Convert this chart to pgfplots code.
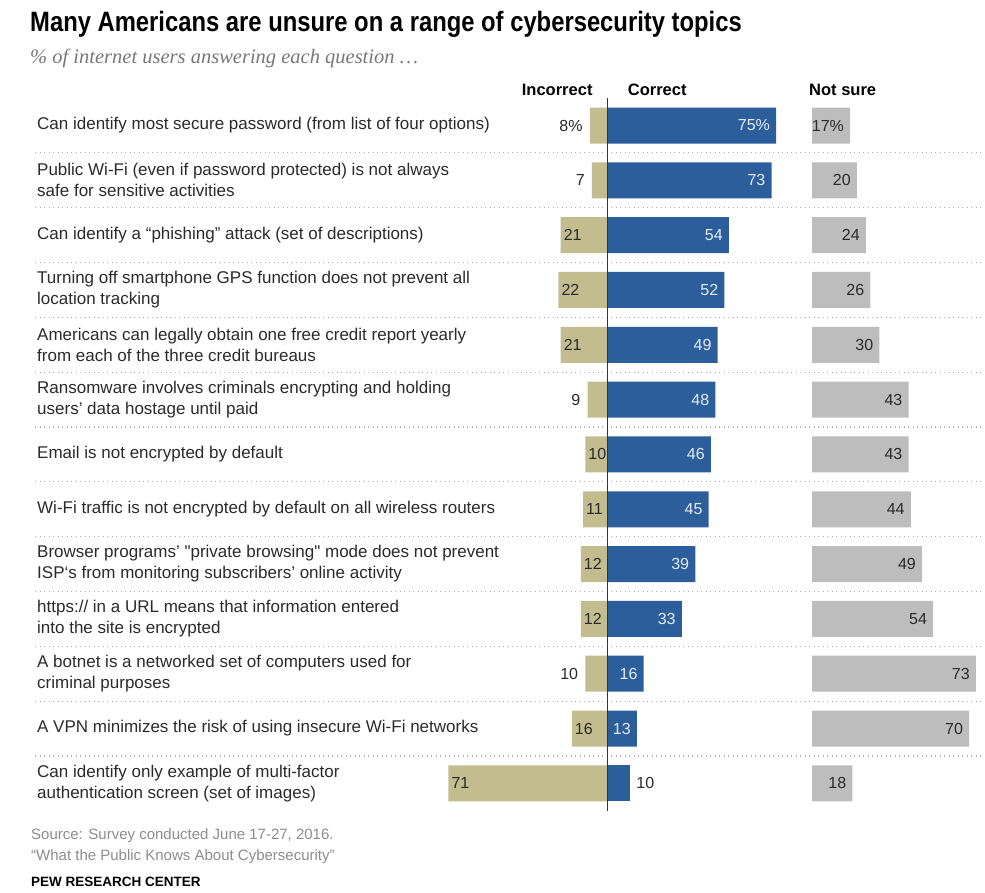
\documentclass[border=0pt]{standalone}
\usepackage{pgfplots}
\pgfplotsset{compat=1.18}
\usepackage{pgfplotstable}
\usepackage{fontspec}
\setmainfont{Liberation Sans}
\newfontfamily\rawq{Liberation Sans}
\newfontfamily\condfont{Liberation Sans}[FakeStretch=0.85]
\newfontfamily\subfont{Liberation Serif}
\definecolor{tanC}{HTML}{C3BC8E}
\definecolor{blueC}{HTML}{2C5E9C}
\definecolor{grayC}{HTML}{BDBDBD}
\definecolor{sepC}{HTML}{B0B0B0}
\definecolor{txtC}{HTML}{2A2A2A}
\definecolor{inC}{HTML}{E4ECF6}
\definecolor{srcC}{HTML}{8C8C8C}
\newcommand{\numfont}{\fontsize{16}{19}\selectfont}

% Incorrect, label outside the bar
\pgfplotstableread{
row v lab
1 8 8\%
2 7 7
6 9 9
11 10 10
}\incout
% Incorrect, label inside the bar
\pgfplotstableread{
row v lab
3 21 21
4 22 22
5 21 21
7 10 10
8 11 11
9 12 12
10 12 12
12 16 16
13 71 71
}\incin
% Correct, label inside
\pgfplotstableread{
row v lab
1 75 75\%
2 73 73
3 54 54
4 52 52
5 49 49
6 48 48
7 46 46
8 45 45
9 39 39
10 33 33
11 16 16
12 13 13
}\corin
% Correct, label outside
\pgfplotstableread{
row v lab
13 10 10
}\corout
% Not sure
\pgfplotstableread{
row v lab
1 17 17\%
2 20 20
3 24 24
4 26 26
5 30 30
6 43 43
7 43 43
8 44 44
9 49 49
10 54 54
11 73 73
12 70 70
13 18 18
}\notsure

\begin{document}
\begin{tikzpicture}
\path[use as bounding box] (0pt,0pt) rectangle (985pt,-892pt);

% title and subtitle
\node[anchor=base west, inner sep=0pt, text=black] at (30pt,-31pt)
  {\condfont\bfseries\fontsize{28}{32}\selectfont Many Americans are unsure on a range of cybersecurity topics};
\node[anchor=base west, inner sep=0pt, text=srcC!85!black] at (30pt,-63pt)
  {\subfont\itshape\fontsize{20.5}{24}\selectfont \% of internet users answering each question \dots};

% column headers
\node[anchor=base west, inner sep=0pt] at (521.7pt,-95.7pt) {\bfseries\fontsize{16.5}{20}\selectfont Incorrect};
\node[anchor=base west, inner sep=0pt] at (627.7pt,-95.7pt) {\bfseries\fontsize{16.5}{20}\selectfont Correct};
\node[anchor=base west, inner sep=0pt] at (809pt,-95.7pt) {\bfseries\fontsize{16.5}{20}\selectfont Not sure};

% dotted row separators
\begin{axis}[at={(508.5pt,-454.42pt)}, anchor=center, scale only axis,
  width=947pt, height=712.66pt, xmin=0, xmax=1, ymin=0.5, ymax=13.5, y dir=reverse,
  xtick=\empty, ytick={1.5,2.5,...,12.5}, yticklabels={},
  ymajorgrids, major grid style={sepC, line width=1.1pt, dash pattern=on 1.2pt off 3.3pt},
  axis line style={draw=none}, tick style={draw=none}]
\end{axis}

% Incorrect / Correct
\begin{axis}[at={(613.32pt,-454.42pt)}, anchor=center, scale only axis,
  width=347.98pt, height=712.66pt, xmin=-75, xmax=80, ymin=0.5, ymax=13.5, y dir=reverse,
  axis on top, clip=false,
  axis line style={draw=none}, tick style={draw=none}, major tick length=0pt,
  xtick=\empty, ytick={1,...,13},
  yticklabels={
    {Can identify most secure password (from list of four options)},
    {Public Wi-Fi (even if password protected) is not always\\safe for sensitive activities},
    {Can identify a “phishing” attack (set of descriptions)},
    {Turning off smartphone GPS function does not prevent all\\location tracking},
    {Americans can legally obtain one free credit report yearly\\from each of the three credit bureaus},
    {Ransomware involves criminals encrypting and holding\\users’ data hostage until paid},
    {Email is not encrypted by default},
    {Wi-Fi traffic is not encrypted by default on all wireless routers},
    {Browser programs’ {\rawq"}private browsing{\rawq"} mode does not prevent\\ISP‘s from monitoring subscribers’ online activity},
    {https:// in a URL means that information entered\\into the site is encrypted},
    {A botnet is a networked set of computers used for\\criminal purposes},
    {A VPN minimizes the risk of using insecure Wi-Fi networks},
    {Can identify only example of multi-factor\\authentication screen (set of images)}},
  yticklabel style={anchor=west, align=left, inner sep=0pt, xshift=-402.33pt,
    font=\fontsize{17}{21}\selectfont, text=txtC},
  extra x ticks={0}, extra x tick labels={},
  extra x tick style={grid=major, major grid style={black!80, line width=1.2pt}}]
\addplot[xbar, bar width=36pt, bar shift=0pt, fill=tanC, draw=none,
  nodes near coords, point meta=explicit symbolic,
  nodes near coords style={anchor=east, inner sep=0pt, xshift=-7pt, font=\numfont, text=txtC}]
  table[x expr=-\thisrow{v}, y=row, meta=lab] {\incout};
\addplot[xbar, bar width=36pt, bar shift=0pt, fill=tanC, draw=none,
  nodes near coords, point meta=explicit symbolic,
  nodes near coords style={anchor=west, inner sep=0pt, xshift=3pt, font=\numfont, text=txtC}]
  table[x expr=-\thisrow{v}, y=row, meta=lab] {\incin};
\addplot[xbar, bar width=36pt, bar shift=0pt, fill=blueC, draw=none,
  nodes near coords, point meta=explicit symbolic,
  nodes near coords style={anchor=east, inner sep=0pt, xshift=-6pt, font=\numfont, text=inC}]
  table[x=v, y=row, meta=lab] {\corin};
\addplot[xbar, bar width=36pt, bar shift=0pt, fill=blueC, draw=none,
  nodes near coords, point meta=explicit symbolic,
  nodes near coords style={anchor=west, inner sep=0pt, xshift=6pt, font=\numfont, text=txtC}]
  table[x=v, y=row, meta=lab] {\corout};
\end{axis}

% Not sure
\begin{axis}[at={(896.19pt,-454.42pt)}, anchor=center, scale only axis,
  width=168.375pt, height=712.66pt, xmin=0, xmax=75, ymin=0.5, ymax=13.5, y dir=reverse,
  hide axis, clip=false]
\addplot[xbar, bar width=36pt, bar shift=0pt, fill=grayC, draw=none,
  nodes near coords, point meta=explicit symbolic,
  nodes near coords style={anchor=east, inner sep=0pt, xshift=-6pt, font=\numfont, text=txtC}]
  table[x=v, y=row, meta=lab] {\notsure};
\end{axis}

% source
\node[anchor=base west, inner sep=0pt, text=srcC] at (31pt,-839pt)
  {\fontsize{15}{18}\selectfont Source: Survey conducted June 17-27, 2016.};
\node[anchor=base west, inner sep=0pt, text=srcC] at (31pt,-860pt)
  {\fontsize{15}{18}\selectfont “What the Public Knows About Cybersecurity”};
\node[anchor=base west, inner sep=0pt, text=black] at (31pt,-886pt)
  {\bfseries\fontsize{13.5}{16}\selectfont PEW RESEARCH CENTER};
\end{tikzpicture}
\end{document}
